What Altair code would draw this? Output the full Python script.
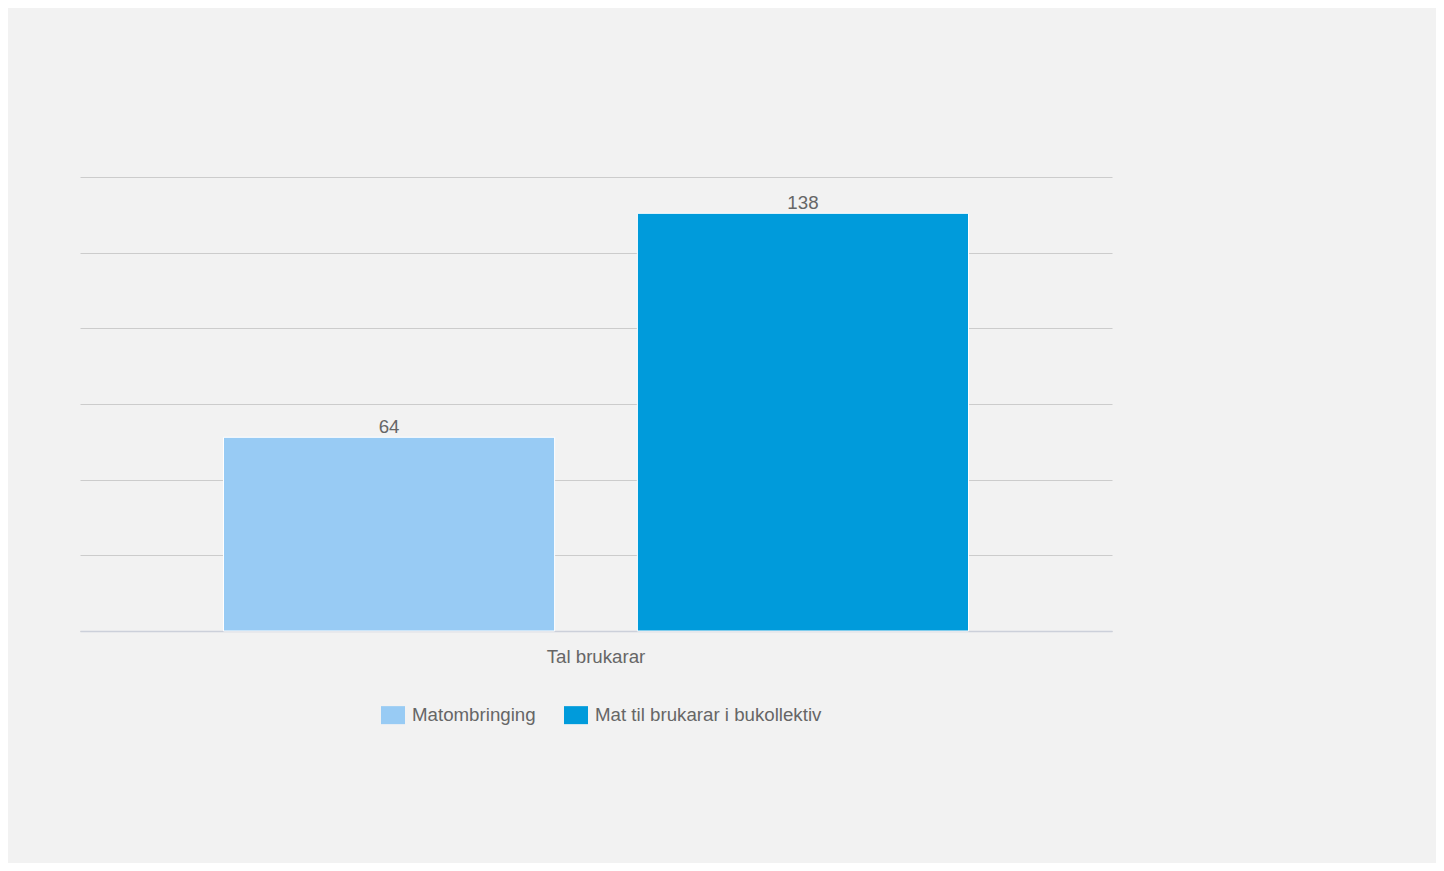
import altair as alt
import pandas as pd

category = ["Tal brukarar", "Tal brukarar"]
series = ["Matombringing", "Mat til brukarar i bukollektiv"]
values = [64, 138]
colors = ["#98cbf4", "#009bdb"]

df = pd.DataFrame({"kategori": category, "serie": series, "verdi": values})

FONT = "Liberation Sans, Arial, sans-serif"
TXT = "#666666"
FS = 18.7

base = alt.Chart(df).encode(
    x=alt.X("kategori:N", title=None,
            scale=alt.Scale(paddingInner=0, paddingOuter=0.1926),
            axis=alt.Axis(labelAngle=0, labelFontSize=FS, labelColor=TXT, labelFont=FONT,
                          labelPadding=16, ticks=False, domainColor="#ccd0da", domainWidth=1.5)),
    xOffset=alt.XOffset("serie:N", sort=series,
                        scale=alt.Scale(paddingInner=0.2, paddingOuter=0)),
)

bars = base.mark_bar(stroke="white", strokeWidth=1).encode(
    y=alt.Y("verdi:Q", title=None,
            scale=alt.Scale(domain=[0, 150], nice=False),
            axis=alt.Axis(values=[0, 25, 50, 75, 100, 125, 150], labels=False, ticks=False,
                          domain=False, grid=True, gridColor="#cccccc", gridWidth=1.2)),
    color=alt.Color("serie:N", sort=series,
                    scale=alt.Scale(domain=series, range=colors),
                    legend=alt.Legend(title=None, orient="none", direction="horizontal",
                                      legendX=301, legendY=526,
                                      symbolType="M-1,-0.75L1,-0.75L1,0.75L-1,0.75Z",
                                      symbolSize=576, symbolStrokeWidth=0,
                                      labelFontSize=FS, labelColor=TXT, labelFont=FONT,
                                      labelLimit=400,
                                      labelOffset=7, columnPadding=28)),
)

labels = base.mark_text(baseline="bottom", dy=0, fontSize=FS, color=TXT, font=FONT).encode(
    y=alt.Y("verdi:Q"),
    text=alt.Text("verdi:Q"),
)

chart = alt.layer(bars, labels).properties(
    width=1032, height=454,
    autosize=alt.AutoSizeParams(type="none"),
    padding={"left": 72, "top": 169, "right": 324, "bottom": 232},
    background="#f2f2f2",
).configure_view(stroke=None)

chart.save("out.html", embed_options={"renderer": "svg", "actions": False})
